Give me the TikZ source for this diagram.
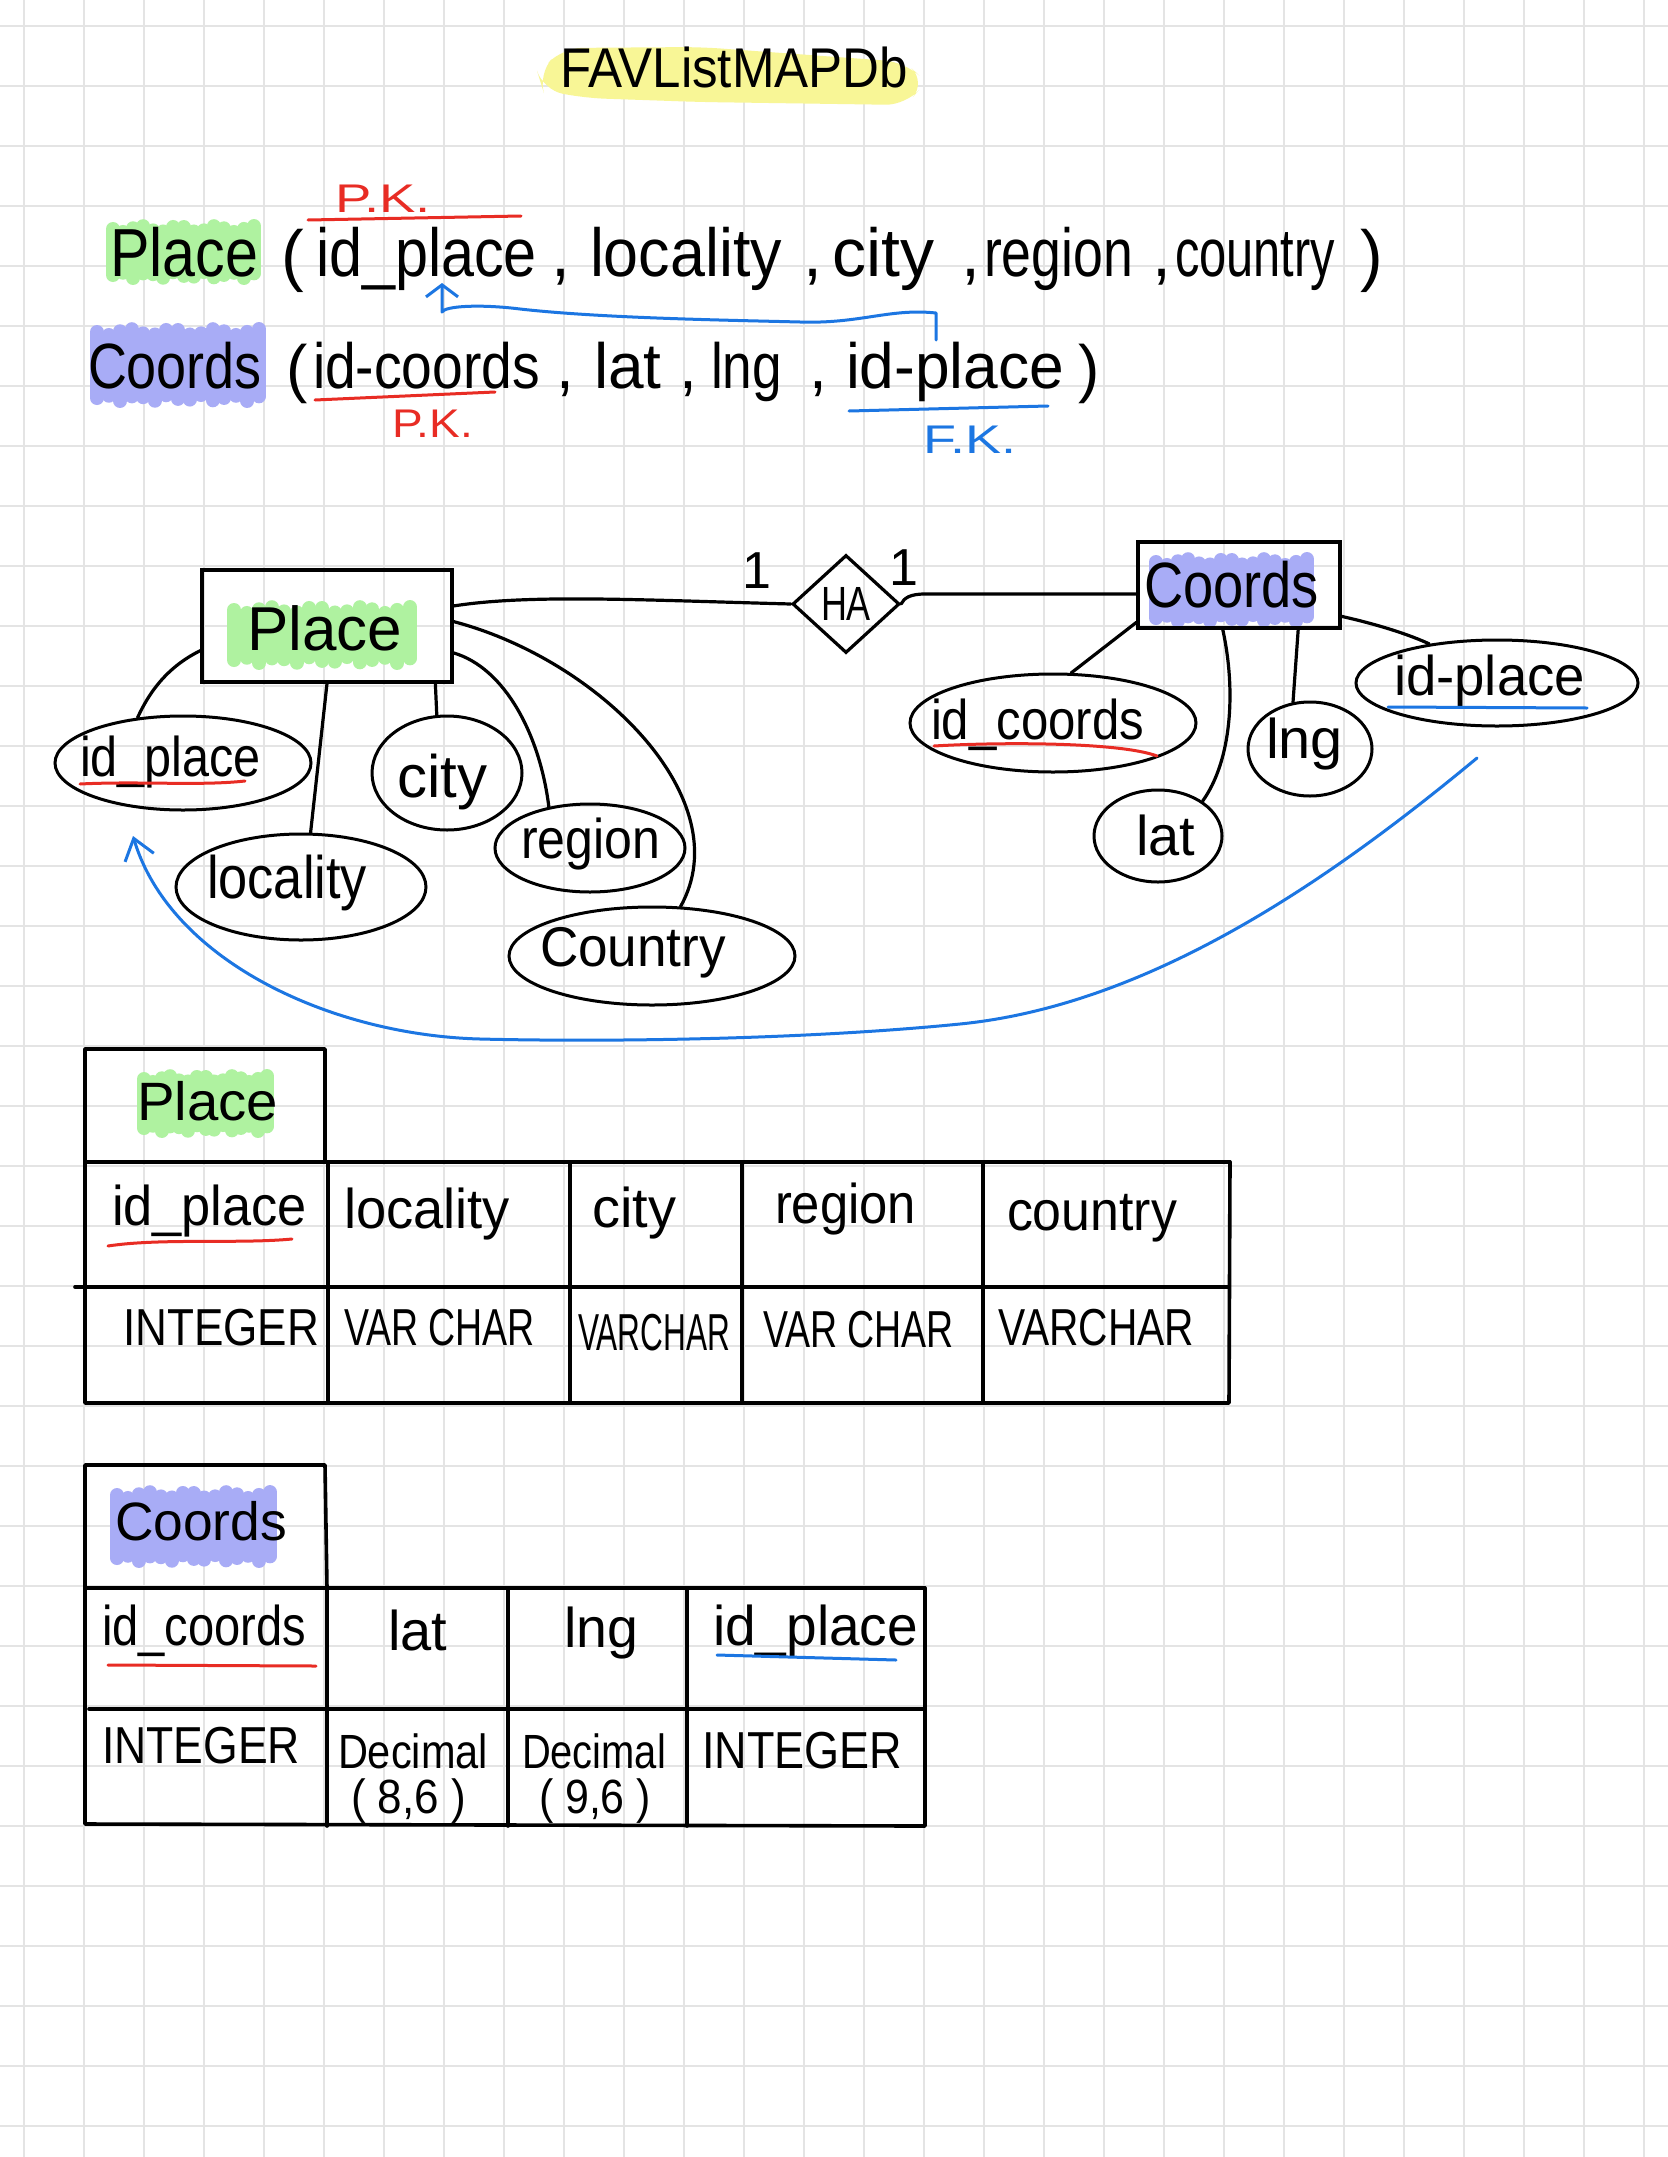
\documentclass[tikz,border=0pt]{standalone}
\usepackage{fontspec}
\setmainfont{Liberation Sans}
\usepackage{graphicx}
\usetikzlibrary{shapes.geometric,arrows.meta}
\newdimen\px \px=0.5pt
\newcommand{\hw}[2]{\resizebox{#1\px}{\height}{#2}}
\newcommand{\fs}[1]{\fontsize{#1}{#1}\selectfont}
\definecolor{gridc}{RGB}{228,228,228}
\definecolor{hlyellow}{RGB}{248,246,150}
\definecolor{hlgreen}{RGB}{175,242,160}
\definecolor{hlblue}{RGB}{168,172,246}
\definecolor{redpen}{RGB}{232,44,36}
\definecolor{bluepen}{RGB}{28,118,226}
\newcommand{\marker}[5]{%
  \fill[#1, rounded corners=4pt] ({#2+5},{#3+7}) rectangle ({#4-5},{#5-7});
  \foreach \i in {0,...,14}{
    \draw[#1, line width=7pt, line cap=round]
      ({#2+7+\i*(#4-#2-14)/14},{#3+7+3*sin(\i*97)}) -- ({#2+7+\i*(#4-#2-14)/14},{#5-7-3*sin(\i*131)});
  }}
\begin{document}
\begin{tikzpicture}[x=0.5pt,y=-0.5pt,
  txt/.style={inner sep=0pt, outer sep=0pt, anchor=base west},
  pen/.style={line width=1.6pt, black, line cap=round, line join=round},
  tline/.style={line width=1.8pt, black, line cap=round, line join=round},
  redline/.style={line width=1.5pt, redpen, line cap=round},
  blueline/.style={line width=1.5pt, bluepen, line cap=round},
  bluearrow/.style={line width=1.5pt, bluepen, line cap=round, line join=round},
  attr/.style={ellipse, draw, line width=1.5pt, inner sep=0pt},
  entity/.style={rectangle, draw, line width=1.6pt, inner sep=0pt},
  gridline/.style={gridc, line width=0.8pt}]
\useasboundingbox (0,0) rectangle (1668,2157);
\fill[white] (0,0) rectangle (1668,2157);
% grid
\foreach \x in {24,84,...,1644} \draw[gridline] (\x,0) -- (\x,2157);
\foreach \y in {26,86,...,2126} \draw[gridline] (0,\y) -- (1668,\y);

% ---------- highlights ----------
\fill[hlyellow, rounded corners=10pt] (538,74) -- (562,48) -- (700,47) -- (905,62) -- (926,82) -- (906,105) -- (700,102) -- (585,98) -- (543,90) -- cycle;
\marker{hlgreen}{106}{222}{261}{282}
\marker{hlblue}{90}{325}{266}{405}
\marker{hlgreen}{227}{603}{417}{667}
\marker{hlblue}{1149}{555}{1314}{625}
\marker{hlgreen}{137}{1072}{274}{1135}
\marker{hlblue}{110}{1488}{277}{1565}

% ---------- title ----------
\node[txt, font={\fs{28}}] (title) at (560,88) {\hw{348}{FAVListMAPDb}};

% ---------- relational schema ----------
\node[txt, font={\fs{34}}] (s1place) at (110,276) {\hw{148}{Place}};
\node[txt, font={\fs{34}}] (s1lp) at (281,278) {(};
\node[txt, font={\fs{34}}] (s1idp) at (316,276) {\hw{221}{id\_place}};
\node[txt, font={\fs{34}}] (s1c1) at (551,276) {,};
\node[txt, font={\fs{34}}] (s1loc) at (590,276) {\hw{192}{locality}};
\node[txt, font={\fs{34}}] (s1c2) at (803,276) {,};
\node[txt, font={\fs{34}}] (s1city) at (832,276) {city};
\node[txt, font={\fs{34}}] (s1c3) at (961,276) {,};
\node[txt, font={\fs{34}}] (s1reg) at (984,276) {\hw{149}{region}};
\node[txt, font={\fs{34}}] (s1c4) at (1152,276) {,};
\node[txt, font={\fs{34}}] (s1coun) at (1175,276) {\hw{160}{country}};
\node[txt, font={\fs{34}}] (s1rp) at (1360,278) {)};
\node[txt, font={\fs{20}}, text=redpen] (pk1) at (335,213) {\hw{96}{P.K.}};
\draw[redline] (308,220) -- (521,216);

\node[txt, font={\fs{32}}] (s2coords) at (88,388) {\hw{174}{Coords}};
\node[txt, font={\fs{32}}] (s2lp) at (286,390) {(};
\node[txt, font={\fs{32}}] (s2idc) at (313,388) {\hw{227}{id-coords}};
\node[txt, font={\fs{32}}] (s2c1) at (556,388) {,};
\node[txt, font={\fs{32}}] (s2lat) at (594,388) {lat};
\node[txt, font={\fs{32}}] (s2c2) at (679,388) {,};
\node[txt, font={\fs{32}}] (s2lng) at (711,388) {\hw{71}{lng}};
\node[txt, font={\fs{32}}] (s2c3) at (809,388) {,};
\node[txt, font={\fs{32}}] (s2idp) at (846,388) {\hw{218}{id-place}};
\node[txt, font={\fs{32}}] (s2rp) at (1078,390) {)};
\draw[redline] (315,400) -- (495,392);
\node[txt, font={\fs{20}}, text=redpen] (pk2) at (392,437) {\hw{81}{P.K.}};
\draw[blueline] (849,411) -- (1048,406);
\node[txt, font={\fs{20}}, text=bluepen] (fk) at (923,453) {\hw{93}{F.K.}};

\coordinate (fkA) at (936,340);
\coordinate (fkB) at (442,283);
\draw[bluearrow, -{Straight Barb[length=6pt,width=16pt]}] (fkA) -- (936,313) .. controls (890,308) and (860,324) .. (800,322) .. controls (720,320) and (600,318) .. (520,309) .. controls (480,304) and (445,306) .. (442,312) -- (fkB);

% ---------- ER diagram ----------
\node[entity, minimum width=125pt, minimum height=56pt] (placeE) at (327,626) {};
\node[txt, font={\fs{31}}] (erplace) at (247,650) {Place};
\node[entity, minimum width=101pt, minimum height=43pt] (coordsE) at (1239,585) {};
\node[txt, font={\fs{32}}] (ercoords) at (1144,607) {\hw{175}{Coords}};
\node[diamond, draw, line width=1.6pt, inner sep=0pt, minimum width=53.5pt, minimum height=49pt, font={\fs{24}}] (ha) at (846,604) {\hw{50}{HA}};
\node[txt, font={\fs{26}}] (one1) at (742,588) {1};
\node[txt, font={\fs{26}}] (one2) at (889,585) {1};

\draw[pen] (placeE.9) .. controls (530,594) and (640,600) .. (ha.west);
\draw[pen] (ha.east) .. controls (904,598) and (910,594) .. (925,594) -- (coordsE.185);

% Place attributes
\node[attr, minimum width=128pt, minimum height=47pt] (eidp) at (183,763) {};
\node[txt, font={\fs{28}}] (teidp) at (80,776) {\hw{181}{id\_place}};
\draw[redline] (80,784) .. controls (140,781) and (200,786) .. (245,781);
\node[attr, minimum width=125pt, minimum height=53pt] (eloc) at (301,887) {};
\node[txt, font={\fs{30}}] (teloc) at (207,898) {\hw{160}{locality}};
\node[attr, minimum width=75pt, minimum height=57pt] (ecity) at (447,773) {};
\node[txt, font={\fs{30}}] (tecity) at (397,797) {city};
\node[attr, minimum width=95pt, minimum height=44pt] (ereg) at (590,848) {};
\node[txt, font={\fs{28}}] (tereg) at (521,858) {\hw{139}{region}};
\node[attr, minimum width=143pt, minimum height=49pt] (ecoun) at (652,956) {};
\node[txt, font={\fs{28}}] (tecoun) at (540,966) {\hw{186}{Country}};

\draw[pen] (placeE.191) .. controls (165,668) and (148,695) .. (eidp.135);
\draw[pen] (placeE.south) -- (eloc.80);
\draw[pen] (placeE.-28) -- (ecity.100);
\draw[pen] (placeE.-12) .. controls (505,668) and (540,735) .. (ereg.135);
\draw[pen] (placeE.2) .. controls (600,660) and (740,800) .. (ecoun.60);

% Coords attributes
\node[attr, minimum width=143pt, minimum height=49pt] (eidc) at (1053,723) {};
\node[txt, font={\fs{28}}] (teidc) at (931,739) {\hw{213}{id\_coords}};
\draw[redline] (934,746) .. controls (1000,742) and (1120,742) .. (1157,756);
\node[attr, minimum width=64pt, minimum height=46pt] (elat) at (1158,836) {};
\node[txt, font={\fs{28}}] (telat) at (1136,855) {lat};
\node[attr, minimum width=62pt, minimum height=47pt] (elng) at (1310,749) {};
\node[txt, font={\fs{28}}] (telng) at (1266,758) {\hw{77}{lng}};
\node[attr, minimum width=141pt, minimum height=43pt] (eidp2) at (1497,683) {};
\node[txt, font={\fs{28}}] (teidp2) at (1394,695) {\hw{191}{id-place}};
\draw[blueline] (1388,707) -- (1587,708);

\draw[pen] (coordsE.200) -- (eidc.70);
\draw[pen] (coordsE.250) .. controls (1236,690) and (1232,760) .. (elat.38);
\draw[pen] (coordsE.-37) -- (elng.110);
\draw[pen] (coordsE.-17) .. controls (1380,625) and (1410,635) .. (eidp2.150);

\coordinate (fkfrom) at (1477,758);
\coordinate (fkto) at (133,836);
\draw[bluearrow, -{Straight Barb[length=10pt,width=15pt]}] (fkfrom) .. controls (1330,880) and (1150,1005) .. (960,1024) .. controls (800,1040) and (600,1042) .. (480,1039) .. controls (330,1035) and (170,960) .. (fkto);

% ---------- Place table ----------
\draw[tline] (85,1162) -- (85,1049) -- (325,1049) -- (325,1162);
\draw[tline] (85,1162) -- (1230,1162);
\draw[tline] (75,1287) -- (1229,1287);
\draw[tline] (85,1162) -- (85,1403) -- (1229,1403) -- (1230,1162);
\foreach \x in {328,570,742,983} \draw[tline] (\x,1162) -- (\x,1403);
\node[txt, font={\fs{27}}] (tplace) at (137,1120) {\hw{141}{Place}};
\node[txt, font={\fs{28}}] (tp1) at (112,1225) {\hw{195}{id\_place}};
\draw[redline] (108,1246) .. controls (160,1238) and (240,1244) .. (292,1239);
\node[txt, font={\fs{28}}] (tp2) at (344,1228) {\hw{166}{locality}};
\node[txt, font={\fs{28}}] (tp3) at (592,1227) {city};
\node[txt, font={\fs{28}}] (tp4) at (775,1223) {\hw{141}{region}};
\node[txt, font={\fs{28}}] (tp5) at (1007,1230) {\hw{170}{country}};
\node[txt, font={\fs{26}}] (tq1) at (123,1345) {\hw{196}{INTEGER}};
\node[txt, font={\fs{26}}] (tq2) at (344,1345) {\hw{191}{VAR CHAR}};
\node[txt, font={\fs{26}}] (tq3) at (578,1350) {\hw{152}{VARCHAR}};
\node[txt, font={\fs{26}}] (tq4) at (763,1347) {\hw{191}{VAR CHAR}};
\node[txt, font={\fs{26}}] (tq5) at (998,1345) {\hw{196}{VARCHAR}};

% ---------- Coords table ----------
\draw[tline] (85,1588) -- (85,1465) -- (325,1465) -- (327,1588);
\draw[tline] (85,1588) -- (925,1588);
\draw[tline] (89,1709) -- (925,1709);
\draw[tline] (85,1588) -- (85,1824) -- (925,1826) -- (925,1588);
\foreach \x in {327,508,687} \draw[tline] (\x,1588) -- (\x,1826);
\node[txt, font={\fs{27}}] (tcoords) at (115,1540) {\hw{172}{Coords}};
\node[txt, font={\fs{28}}] (tc1) at (102,1645) {\hw{204}{id\_coords}};
\draw[redline] (108,1665) -- (316,1666);
\node[txt, font={\fs{28}}] (tc2) at (388,1650) {lat};
\node[txt, font={\fs{28}}] (tc3) at (564,1647) {\hw{74}{lng}};
\node[txt, font={\fs{28}}] (tc4) at (713,1645) {\hw{205}{id\_place}};
\draw[blueline] (717,1655) -- (896,1660);
\node[txt, font={\fs{26}}] (td1) at (102,1763) {\hw{198}{INTEGER}};
\node[txt, font={\fs{24}}] (td2) at (338,1768) {\hw{150}{Decimal}};
\node[txt, font={\fs{24}}] (td2b) at (351,1813) {\hw{115}{( 8,6 )}};
\node[txt, font={\fs{24}}] (td3) at (522,1768) {\hw{144}{Decimal}};
\node[txt, font={\fs{24}}] (td3b) at (539,1813) {\hw{112}{( 9,6 )}};
\node[txt, font={\fs{26}}] (td4) at (702,1768) {\hw{200}{INTEGER}};
\end{tikzpicture}
\end{document}
